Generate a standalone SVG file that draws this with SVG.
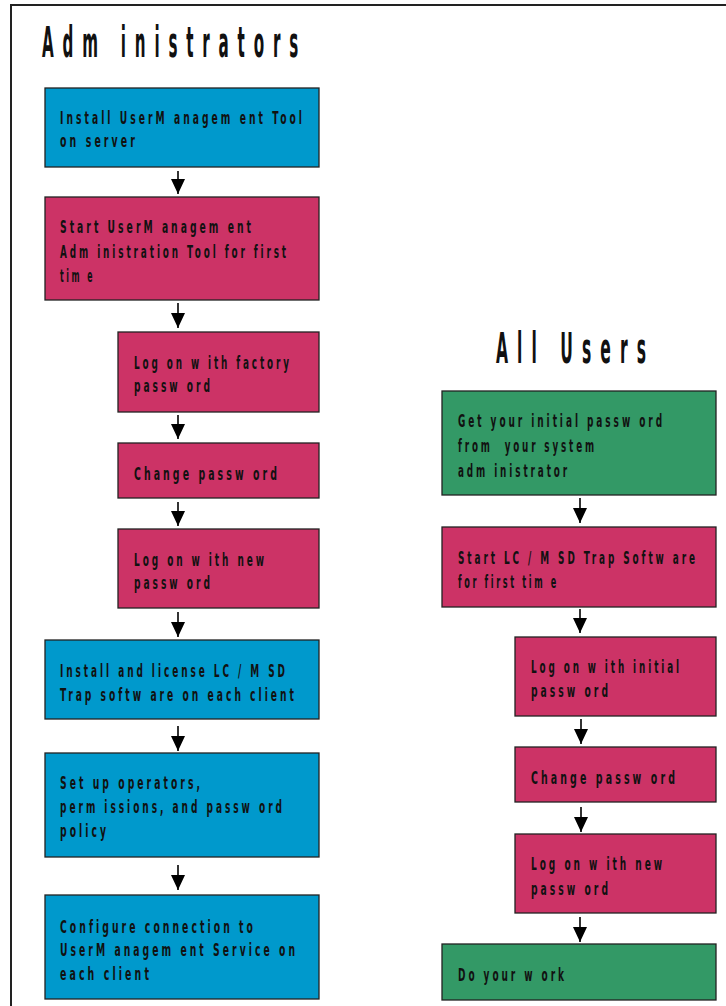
<svg xmlns="http://www.w3.org/2000/svg" width="726" height="1006" viewBox="0 0 726 1006">
<style>
.box{stroke:#222;stroke-width:1.3}
.blue{fill:#0099cc}
.red{fill:#cc3366}
.green{fill:#339966}
.t{font-family:"DejaVu Sans Condensed","Liberation Sans",sans-serif;font-weight:bold;font-size:18.5px;letter-spacing:5.5px;fill:#111}
.h{font-family:"DejaVu Sans Condensed","Liberation Sans",sans-serif;font-weight:bold;font-size:42px;letter-spacing:22px;fill:#111}
.c{stroke:#000;stroke-width:1.6;fill:none}
</style>
<defs>
<marker id="ah" markerUnits="userSpaceOnUse" markerWidth="16" markerHeight="14" refX="15" refY="7" orient="auto">
<path d="M0,0 L15,7 L0,14 Z" fill="#000"/>
</marker>
</defs>
<rect x="11" y="5" width="740" height="1020" fill="none" stroke="#222" stroke-width="2"/>
<text class="h" transform="translate(42,57) scale(0.5,1)" textLength="530" lengthAdjust="spacingAndGlyphs">Adm inistrators</text>
<text class="h" transform="translate(496,363) scale(0.5,1)" textLength="318" lengthAdjust="spacingAndGlyphs">All Users</text>

<g id="connectors">
<line class="c" x1="178" y1="171" x2="178" y2="194" marker-end="url(#ah)"/>
<line class="c" x1="178" y1="303" x2="178" y2="328" marker-end="url(#ah)"/>
<line class="c" x1="178" y1="415" x2="178" y2="439" marker-end="url(#ah)"/>
<line class="c" x1="178" y1="502" x2="178" y2="526" marker-end="url(#ah)"/>
<line class="c" x1="178" y1="612" x2="178" y2="637" marker-end="url(#ah)"/>
<line class="c" x1="178" y1="726" x2="178" y2="751" marker-end="url(#ah)"/>
<line class="c" x1="178" y1="865" x2="178" y2="890" marker-end="url(#ah)"/>
<line class="c" x1="580" y1="498" x2="580" y2="523" marker-end="url(#ah)"/>
<line class="c" x1="580" y1="609" x2="580" y2="633" marker-end="url(#ah)"/>
<line class="c" x1="581" y1="719" x2="581" y2="744" marker-end="url(#ah)"/>
<line class="c" x1="581" y1="807" x2="581" y2="832" marker-end="url(#ah)"/>
<line class="c" x1="580" y1="917" x2="580" y2="942" marker-end="url(#ah)"/>
</g>

<g id="a1">
<rect class="box blue" x="45" y="88" width="274" height="79"/>
<text class="t" transform="translate(60,124) scale(0.5,1)" textLength="490" lengthAdjust="spacingAndGlyphs">Install UserM anagem ent Tool</text>
<text class="t" transform="translate(60,147) scale(0.5,1)" textLength="156" lengthAdjust="spacingAndGlyphs">on server</text>
</g>
<g id="a2">
<rect class="box red" x="45" y="197" width="274" height="103"/>
<text class="t" transform="translate(60,233) scale(0.5,1)" textLength="388" lengthAdjust="spacingAndGlyphs">Start UserM anagem ent</text>
<text class="t" transform="translate(60,258) scale(0.5,1)" textLength="458" lengthAdjust="spacingAndGlyphs">Adm inistration Tool for first</text>
<text class="t" transform="translate(60,282) scale(0.5,1)" textLength="70" lengthAdjust="spacingAndGlyphs">tim e</text>
</g>
<g id="a3">
<rect class="box red" x="118" y="332" width="201" height="80"/>
<text class="t" transform="translate(134,369) scale(0.5,1)" textLength="316" lengthAdjust="spacingAndGlyphs">Log on w ith factory</text>
<text class="t" transform="translate(134,392) scale(0.5,1)" textLength="158" lengthAdjust="spacingAndGlyphs">passw ord</text>
</g>
<g id="a4">
<rect class="box red" x="118" y="443" width="201" height="55"/>
<text class="t" transform="translate(134,480) scale(0.5,1)" textLength="292" lengthAdjust="spacingAndGlyphs">Change passw ord</text>
</g>
<g id="a5">
<rect class="box red" x="118" y="529" width="201" height="79"/>
<text class="t" transform="translate(134,566) scale(0.5,1)" textLength="266" lengthAdjust="spacingAndGlyphs">Log on w ith new</text>
<text class="t" transform="translate(134,589) scale(0.5,1)" textLength="158" lengthAdjust="spacingAndGlyphs">passw ord</text>
</g>
<g id="a6">
<rect class="box blue" x="45" y="640" width="274" height="79"/>
<text class="t" transform="translate(60,677) scale(0.5,1)" textLength="456" lengthAdjust="spacingAndGlyphs">Install and license LC / M SD</text>
<text class="t" transform="translate(60,701) scale(0.5,1)" textLength="474" lengthAdjust="spacingAndGlyphs">Trap softw are on each client</text>
</g>
<g id="a7">
<rect class="box blue" x="45" y="753" width="274" height="104"/>
<text class="t" transform="translate(60,789) scale(0.5,1)" textLength="286" lengthAdjust="spacingAndGlyphs">Set up operators,</text>
<text class="t" transform="translate(60,813) scale(0.5,1)" textLength="450" lengthAdjust="spacingAndGlyphs">perm issions, and passw ord</text>
<text class="t" transform="translate(60,837) scale(0.5,1)" textLength="98" lengthAdjust="spacingAndGlyphs">policy</text>
</g>
<g id="a8">
<rect class="box blue" x="45" y="895" width="274" height="104"/>
<text class="t" transform="translate(60,933) scale(0.5,1)" textLength="392" lengthAdjust="spacingAndGlyphs">Configure connection to</text>
<text class="t" transform="translate(60,956) scale(0.5,1)" textLength="476" lengthAdjust="spacingAndGlyphs">UserM anagem ent Service on</text>
<text class="t" transform="translate(60,980) scale(0.5,1)" textLength="184" lengthAdjust="spacingAndGlyphs">each client</text>
</g>

<g id="u1">
<rect class="box green" x="442" y="391" width="274" height="104"/>
<text class="t" transform="translate(458,427) scale(0.5,1)" textLength="414" lengthAdjust="spacingAndGlyphs">Get your initial passw ord</text>
<text class="t" transform="translate(458,452) scale(0.5,1)" textLength="278" lengthAdjust="spacingAndGlyphs" xml:space="preserve">from  your system</text>
<text class="t" transform="translate(458,477) scale(0.5,1)" textLength="224" lengthAdjust="spacingAndGlyphs">adm inistrator</text>
</g>
<g id="u2">
<rect class="box red" x="442" y="527" width="274" height="80"/>
<text class="t" transform="translate(458,564) scale(0.5,1)" textLength="480" lengthAdjust="spacingAndGlyphs">Start LC / M SD Trap Softw are</text>
<text class="t" transform="translate(458,588) scale(0.5,1)" textLength="202" lengthAdjust="spacingAndGlyphs">for first tim e</text>
</g>
<g id="u3">
<rect class="box red" x="515" y="637" width="201" height="79"/>
<text class="t" transform="translate(531,673) scale(0.5,1)" textLength="302" lengthAdjust="spacingAndGlyphs">Log on w ith initial</text>
<text class="t" transform="translate(531,697) scale(0.5,1)" textLength="160" lengthAdjust="spacingAndGlyphs">passw ord</text>
</g>
<g id="u4">
<rect class="box red" x="515" y="747" width="201" height="55"/>
<text class="t" transform="translate(531,784) scale(0.5,1)" textLength="294" lengthAdjust="spacingAndGlyphs">Change passw ord</text>
</g>
<g id="u5">
<rect class="box red" x="515" y="834" width="201" height="79"/>
<text class="t" transform="translate(531,870) scale(0.5,1)" textLength="268" lengthAdjust="spacingAndGlyphs">Log on w ith new</text>
<text class="t" transform="translate(531,895) scale(0.5,1)" textLength="160" lengthAdjust="spacingAndGlyphs">passw ord</text>
</g>
<g id="u6">
<rect class="box green" x="442" y="944" width="274" height="56"/>
<text class="t" transform="translate(458,981) scale(0.5,1)" textLength="218" lengthAdjust="spacingAndGlyphs">Do your w ork</text>
</g>
</svg>
